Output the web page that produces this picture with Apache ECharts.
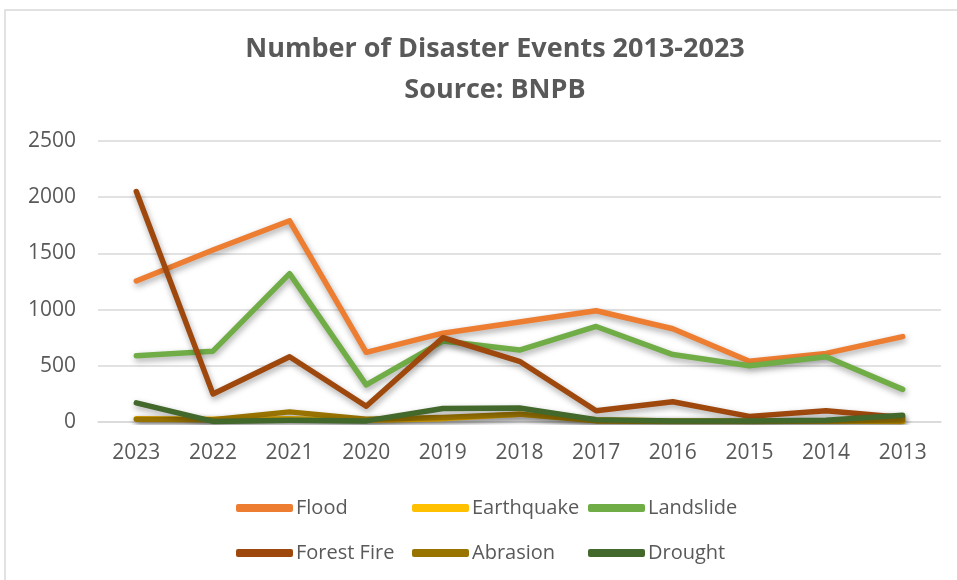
<!DOCTYPE html>
<html>
<head>
<meta charset="utf-8">
<script src="https://cdn.jsdelivr.net/npm/echarts@6/dist/echarts.min.js"></script>
<style>
  html, body { margin: 0; padding: 0; background: #fff; }
  #chart { width: 957px; height: 580px; }
</style>
</head>
<body>
<div id="chart"></div>
<script>
var years = ['2023', '2022', '2021', '2020', '2019', '2018', '2017', '2016', '2015', '2014', '2013'];

var flood      = [1255, 1530, 1790, 620, 790, 890, 990, 830, 540, 610, 760];
var earthquake = [30, 25, 30, 15, 30, 70, 20, 10, 10, 10, 5];
var landslide  = [590, 630, 1320, 330, 720, 640, 850, 600, 500, 580, 290];
var forestFire = [2050, 250, 580, 140, 750, 540, 100, 180, 50, 100, 40];
var abrasion   = [25, 20, 90, 25, 40, 70, 10, 5, 5, 10, 20];
var drought    = [170, 5, 15, 10, 120, 125, 20, 10, 10, 15, 60];

var seriesNames = ['Flood', 'Earthquake', 'Landslide', 'Forest Fire', 'Abrasion', 'Drought'];
var seriesData = [flood, earthquake, landslide, forestFire, abrasion, drought];
var colors = ['#ED7D31', '#FFC000', '#70AD47', '#9E480E', '#997300', '#43682B'];

var textColor = '#595959';
var font = '"Open Sans", sans-serif';

// legend laid out as a 3x2 grid like the original
var legendLeft = [231, 407, 583];
var legendTop = [493, 538];

var chart = echarts.init(document.getElementById('chart'), null, { renderer: 'canvas' });

var legends = seriesNames.map(function(name, i) {
  return {
    data: [name],
    left: legendLeft[i % 3],
    top: legendTop[Math.floor(i / 3)],
    icon: 'roundRect',
    itemWidth: 57,
    itemHeight: 8,
    textStyle: { color: textColor, fontSize: 20, fontFamily: font, padding: [0, 0, 0, -2] }
  };
});

chart.setOption({
  animation: false,
  color: colors,
  graphic: [{
    type: 'rect',
    shape: { x: 5, y: 10, width: 980, height: 600 },
    style: { fill: 'none', stroke: '#d9d9d9', lineWidth: 1.5 },
    silent: true
  }],
  title: {
    text: 'Number of Disaster Events 2013-2023\nSource: BNPB',
    left: 490,
    textAlign: 'center',
    top: 24,
    textStyle: {
      color: textColor,
      fontSize: 27,
      fontWeight: 'bold',
      fontFamily: font,
      lineHeight: 41
    }
  },
  legend: legends,
  grid: { left: 98, right: 16, top: 141, bottom: 158 },
  xAxis: {
    type: 'category',
    data: years,
    boundaryGap: true,
    axisLine: { lineStyle: { color: '#d9d9d9', width: 1.5 } },
    axisTick: { show: false },
    axisLabel: { color: textColor, fontSize: 21, fontFamily: font, margin: 21 }
  },
  yAxis: {
    type: 'value',
    min: 0,
    max: 2500,
    interval: 500,
    axisLine: { show: false },
    axisTick: { show: false },
    splitLine: { lineStyle: { color: '#d9d9d9', width: 1.5 } },
    axisLabel: {
      color: textColor, fontSize: 21, fontFamily: font, margin: 22,
      formatter: function(v) { return String(v); }
    }
  },
  series: seriesNames.map(function(name, i) {
    return {
      name: name,
      type: 'line',
      data: seriesData[i],
      symbol: 'none',
      lineStyle: {
        width: 5.5,
        color: colors[i],
        cap: 'round',
        join: 'round',
        shadowColor: 'rgba(0,0,0,0.35)',
        shadowBlur: 6,
        shadowOffsetX: 1,
        shadowOffsetY: 3
      }
    };
  })
});
</script>
</body>
</html>
